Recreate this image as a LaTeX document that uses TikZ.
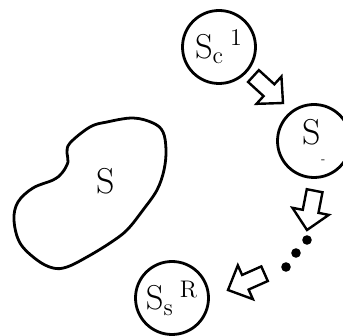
\documentclass[tikz,border=0pt]{standalone}
\begin{document}
\begin{tikzpicture}[
	x=0.5pt, y=-0.5pt,
	setnode/.style={circle, draw, line width=1.4pt, minimum size=36.5pt, inner sep=0pt, font=\fontsize{18}{21}\selectfont},
	blobline/.style={line width=1.4pt, line join=round},
	arrowline/.style={line width=1.2pt, line join=miter},
	dotnode/.style={circle, fill, inner sep=0pt, minimum size=4.8pt},
	blockarrow/.pic={\draw[arrowline] (0,0) -- (-19,18.5) -- (-19,8) -- (-40,8) -- (-40,-8) -- (-19,-8) -- (-19,-18.5) -- cycle;}
]
\path[use as bounding box] (0,0) rectangle (343,336);
\clip (0,0) rectangle (343,336);

% Menge
\draw[blobline] plot[smooth cycle, tension=0.6] coordinates {
	(70,143) (90,127) (107,122) (133,118) (153,123) (163,132) (166,150)
	(164,170) (157,190) (143,210) (127,230) (110,243) (87,257) (67,267)
	(53,268) (37,260) (20,243) (14,220) (18,202) (33,188) (53,180)
	(62,173) (68,162) (67,153)};
\node[font=\fontsize{18}{21}\selectfont] (set) at (106,181) {S};

% Kreise
\node[setnode] (c1) at (219,47) {$\mathrm{S_c}{}^{\kern3pt\mathrm{1}}$};
\node[setnode] (c2) at (314,141) {S\raisebox{-9pt}{\tiny -}};
\node[setnode] (c3) at (172,298) {$\mathrm{S_s}{}^{\kern3pt\mathrm{R}}$};

% Pfeile
\pic[rotate=-42.4] at (283,103) {blockarrow};
\pic[rotate=-101] at (307,230) {blockarrow};
\pic[rotate=204] at (228,290) {blockarrow};

% Punkte
\node[dotnode] (d1) at (307,240) {};
\node[dotnode] (d2) at (296,253) {};
\node[dotnode] (d3) at (286,267) {};

\end{tikzpicture}
\end{document}
